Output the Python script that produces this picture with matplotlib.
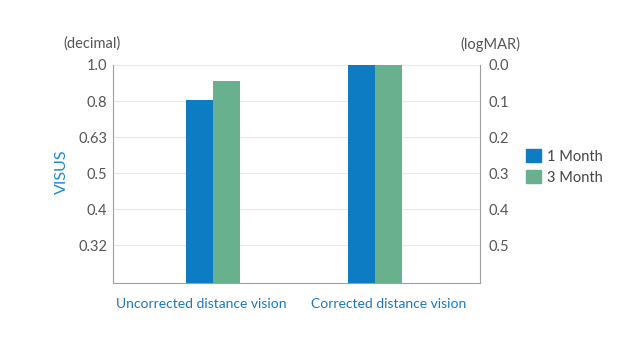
import numpy as np
import matplotlib
matplotlib.use("Agg")
import matplotlib.pyplot as plt
from matplotlib.patches import Patch

categories = ["Uncorrected distance vision", "Corrected distance vision"]
series_names = ["1 Month", "3 Month"]
month1_decimal = [0.8, 1.0]
month3_decimal = [0.9, 1.0]
decimal_ticks = ["1.0", "0.8", "0.63", "0.5", "0.4", "0.32"]
logmar_ticks = [0.0, 0.1, 0.2, 0.3, 0.4, 0.5]
colors = ["#0e7cc3", "#69b18e"]

plt.rcParams['font.family'] = ['Lato', 'DejaVu Sans']
fig = plt.figure(figsize=(6.4, 3.52), dpi=100)
ax = fig.add_axes([113/640, 1-283/352, (480-113)/640, (283-65)/352])

base = 0.605
x = np.arange(len(categories))
w = 0.164
for i, vals in enumerate([month1_decimal, month3_decimal]):
    lm = -np.log10(np.array(vals))
    ax.bar(x + (i - 0.5) * w, lm - base, bottom=base, width=w, color=colors[i], zorder=3)

ax.set_ylim(base, 0.0)
ax.set_xlim(-0.617, 1.648)
ax.set_yticks(logmar_ticks)
ax.set_yticklabels(decimal_ticks)
ax.grid(axis='y', color='#e8e8ee', linewidth=0.8, zorder=0)
ax.set_xticks([])
ax.tick_params(axis='y', length=0, labelcolor='#555555', labelsize=10.5, pad=4)

for s in ['left', 'right', 'bottom']:
    ax.spines[s].set_color('#a0a0a0')
ax.spines['top'].set_visible(False)

ax2 = ax.twinx()
ax2.set_ylim(base, 0.0)
ax2.set_yticks(logmar_ticks)
ax2.set_yticklabels([f"{v:.1f}" for v in logmar_ticks])
ax2.tick_params(axis='y', length=0, labelcolor='#555555', labelsize=10.5, pad=6)
for s in ax2.spines.values():
    s.set_visible(False)

label_x = [201, 389]
for cx, cat in zip(label_x, categories):
    fig.text(cx/640, 1-304/352, cat, ha='center', va='center', color='#1a78be', fontsize=10)

fig.text(92/640, 1-44/352, "(decimal)", ha='center', va='center', color='#555555', fontsize=10.5)
fig.text(490/640, 1-44/352, "(logMAR)", ha='center', va='center', color='#555555', fontsize=10.5)
fig.text(62/640, 1-172/352, "VISUS", ha='center', va='center', rotation=90, color='#1a8ad0', fontsize=11.5)

handles = [Patch(color=c, label=n) for c, n in zip(colors, series_names)]
fig.legend(handles=handles, loc='center left', bbox_to_anchor=(513/640, 1-167/352), frameon=False,
           fontsize=10.5, handlelength=1.0, handleheight=1.0, handletextpad=0.4, labelspacing=0.45,
           labelcolor='#444444')

fig.savefig("out.png", dpi=100)
